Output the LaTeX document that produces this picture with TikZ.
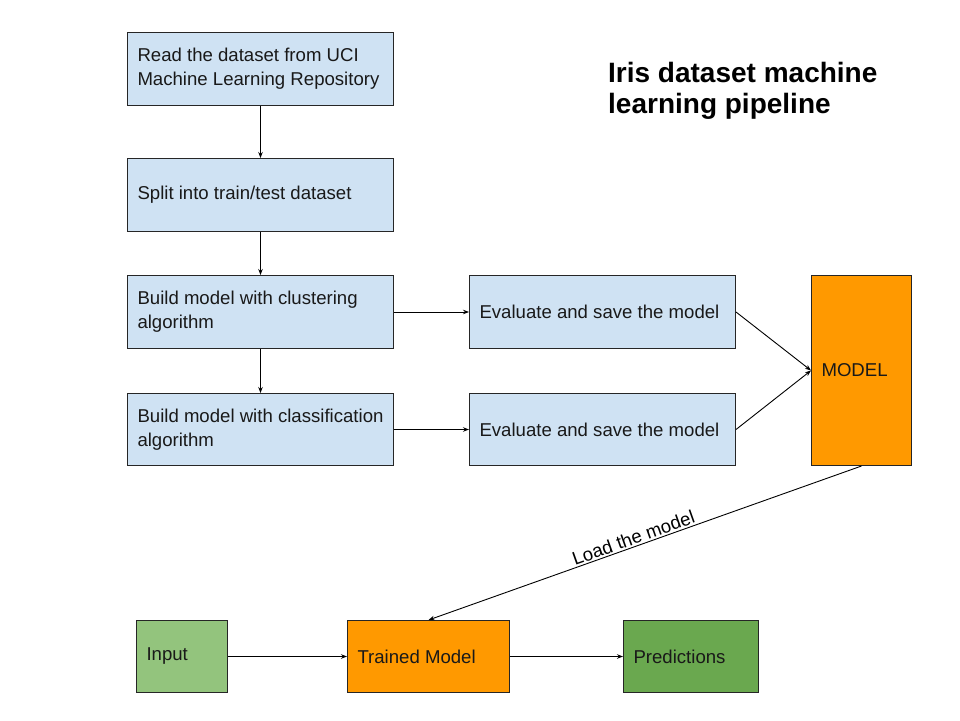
\documentclass[tikz,border=0pt]{standalone}
\usepackage{fontspec}
\setmainfont{Liberation Sans}
\usetikzlibrary{arrows.meta}
\definecolor{lblue}{HTML}{CFE2F3}
\definecolor{orng}{HTML}{FF9900}
\definecolor{lgreen}{HTML}{93C47D}
\definecolor{dgreen}{HTML}{6AA84F}
\tikzset{
  box/.style={draw=black!85, line width=1pt, anchor=north west, inner xsep=10pt, inner ysep=0pt,
    align=flush left, font=\fontsize{18.6}{24}\selectfont, text=black!90},
  bluebox/.style={box, fill=lblue},
  conn/.style={line width=0.9pt, -{Stealth[length=6pt,width=4.5pt]}}
}
\begin{document}
\begin{tikzpicture}[x=1pt,y=-1pt]
\useasboundingbox (0,0) rectangle (960,720);
\fill[white] (0,0) rectangle (960,720);
\node[bluebox, minimum width=266pt, minimum height=73pt, text width=246pt] (r1) at (127,32) {Read the dataset from UCI\\Machine Learning Repository};
\node[bluebox, minimum width=266pt, minimum height=73pt, text width=246pt] (r2) at (127,158) {Split into train/test dataset};
\node[bluebox, minimum width=266pt, minimum height=73pt, text width=246pt] (r3) at (127,275) {Build model with clustering\\algorithm};
\node[bluebox, minimum width=266pt, minimum height=72pt, text width=246pt] (r4) at (127,393) {Build model with classification\\algorithm};
\node[bluebox, minimum width=266pt, minimum height=73pt, text width=246pt] (e1) at (469,275) {Evaluate and save the model};
\node[bluebox, minimum width=266pt, minimum height=72pt, text width=246pt] (e2) at (469,393) {Evaluate and save the model};
\node[box, fill=orng, minimum width=100pt, minimum height=190pt, text width=80pt] (model) at (811,275) {MODEL};
\node[box, fill=lgreen, minimum width=91pt, minimum height=72pt, text width=71pt] (input) at (136,620) {Input};
\node[box, fill=orng, minimum width=162pt, minimum height=72pt, text width=142pt] (trained) at (347,620) {Trained Model};
\node[box, fill=dgreen, minimum width=135pt, minimum height=72pt, text width=115pt] (pred) at (623,620) {Predictions};
\node[anchor=north west, align=left, inner sep=0pt, font=\fontsize{28}{31}\selectfont\bfseries] (title) at (608,62) {Iris dataset machine\\learning pipeline};
\draw[conn] (r1.south) -- (r2.north);
\draw[conn] (r2.south) -- (r3.north);
\draw[conn] (r3.south) -- (r4.north);
\draw[conn] (r3.east) -- (e1.west);
\draw[conn] (r4.east) -- (e2.west);
\draw[conn] (e1.east) -- (model.west);
\draw[conn] (e2.east) -- (model.west);
\draw[conn] (model.south) -- node[pos=0.52, above, sloped, font=\fontsize{18.6}{22}\selectfont, inner sep=1.5pt] {Load the model} (trained.north);
\draw[conn] (input.east) -- (trained.west);
\draw[conn] (trained.east) -- (pred.west);
\end{tikzpicture}
\end{document}
